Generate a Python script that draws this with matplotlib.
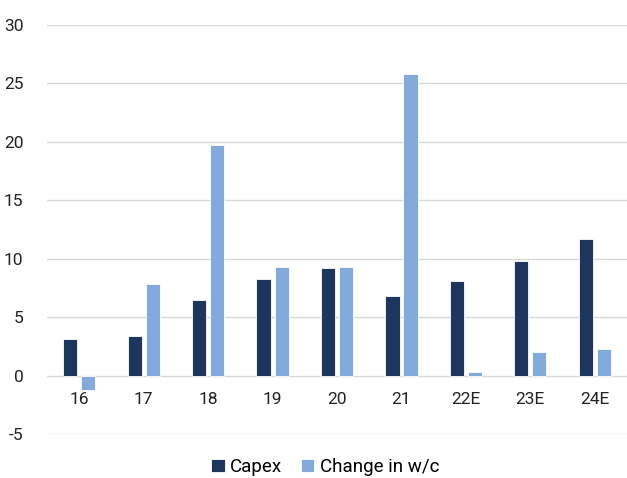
import numpy as np
import matplotlib.pyplot as plt

plt.rcParams['font.family'] = ['Roboto', 'DejaVu Sans']
plt.rcParams['axes.unicode_minus'] = False

# categories and series
years = ['16', '17', '18', '19', '20', '21', '22E', '23E', '24E']
capex = [3.1, 3.4, 6.5, 8.3, 9.2, 6.8, 8.1, 9.8, 11.7]
wc_change = [-1.2, 7.8, 19.7, 9.3, 9.3, 25.8, 0.3, 2.0, 2.3]

navy = '#1d365d'
light = '#84aadc'

fig = plt.figure(figsize=(6.27, 4.78), dpi=100)
ax = fig.add_axes([0.075, 0.092, 0.925, 0.856])

x = np.arange(len(years))
w = 0.22
ax.bar(x - 0.14, capex, w, color=navy, edgecolor='white', linewidth=0.6, label='Capex', zorder=3)
ax.bar(x + 0.14, wc_change, w, color=light, edgecolor='white', linewidth=0.6, label='Change in w/c', zorder=3)

ax.set_xlim(-0.5, len(years) - 0.5)
ax.set_ylim(-5, 30)
ax.set_yticks(range(-5, 31, 5))
ax.grid(axis='y', color='#d9d9d9', linewidth=1, zorder=0)

for s in ax.spines.values():
    s.set_visible(False)
ax.spines['bottom'].set_position(('data', 0))

ax.set_xticks(x)
ax.set_xticklabels(years)
ax.tick_params(axis='x', length=0, pad=12, labelsize=12.5, colors='#222222')
ax.tick_params(axis='y', length=0, pad=17, labelsize=12.5, colors='#222222')

ax.legend(loc='lower center', bbox_to_anchor=(0.48, -0.145), ncol=2, frameon=False,
          fontsize=13.5, handlelength=0.7, handleheight=0.7, handletextpad=0.3,
          columnspacing=1.0)

fig.savefig('out.png', dpi=100)
